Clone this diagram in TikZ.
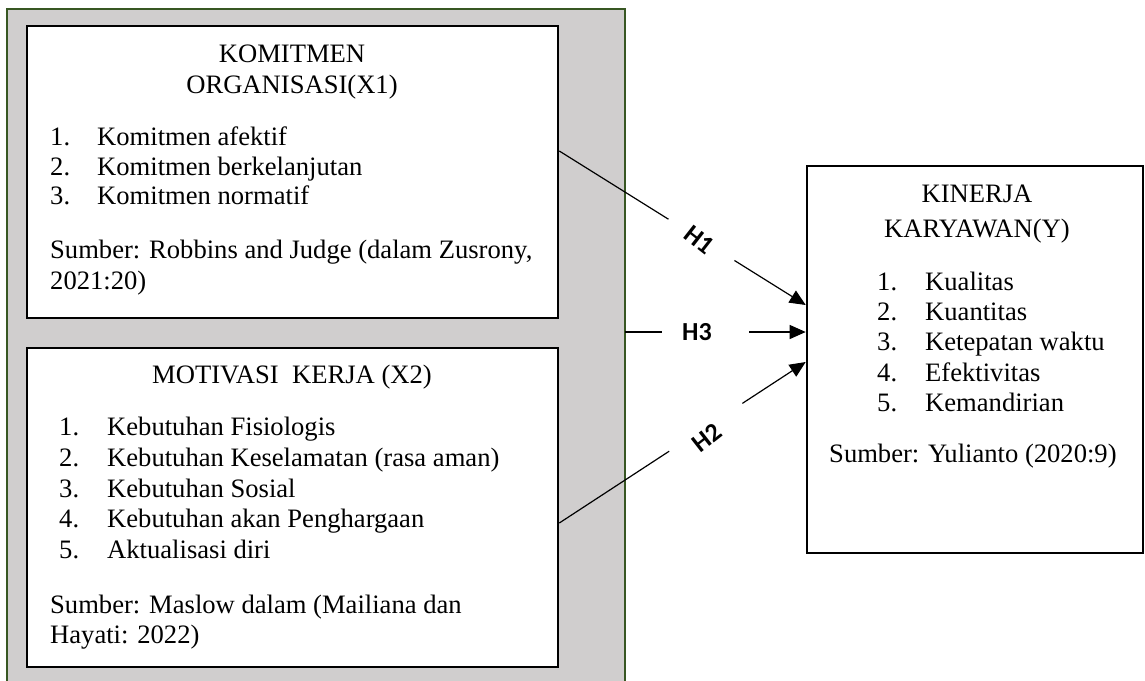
\documentclass[tikz,border=0pt]{standalone}
\usepackage{fontspec}
\setmainfont{Liberation Serif}
\newfontfamily\labfont{Carlito}
\usetikzlibrary{arrows.meta}
\definecolor{panelgray}{RGB}{208,206,206}
\definecolor{panelgreen}{RGB}{56,87,35}
\tikzset{
  panel/.style={draw=panelgreen, line width=1.5pt, fill=panelgray, rectangle, inner sep=0pt},
  varbox/.style={draw=black, line width=2.6pt, fill=white, rectangle, inner sep=0pt},
  txt/.style={anchor=base west, inner sep=0pt, font=\fontsize{26.6}{30}\selectfont},
  ctxt/.style={anchor=base, inner sep=0pt, font=\fontsize{26.6}{30}\selectfont},
  conn/.style={line width=1.2pt},
  arr/.style={line width=1.2pt, -{Triangle[length=16pt,width=14pt]}},
  hlab/.style={inner sep=0pt, font=\labfont\bfseries\fontsize{26}{26}\selectfont},
}
\begin{document}
\begin{tikzpicture}[x=1pt,y=-1pt]
\useasboundingbox (0,0) rectangle (1145,680);
% panel and boxes
\node[panel, minimum width=618pt, minimum height=678pt] (panel) at (316,348) {};
\node[varbox, minimum width=531pt, minimum height=292pt] (x1) at (292.5,172) {};
\node[varbox, minimum width=531pt, minimum height=319pt] (x2) at (292.5,507.5) {};
\node[varbox, minimum width=336pt, minimum height=387pt] (y) at (975,359.5) {};
% X1 text
\node[ctxt] (x1t1) at (292,62) {KOMITMEN};
\node[ctxt] (x1t2) at (292,93) {ORGANISASI(X1)};
\node[txt] (x1n1) at (50,145) {1.};
\node[txt] (x1i1) at (97,145) {Komitmen afektif};
\node[txt] (x1n2) at (50,175) {2.};
\node[txt] (x1i2) at (97,175) {Komitmen berkelanjutan};
\node[txt] (x1n3) at (50,204) {3.};
\node[txt] (x1i3) at (97,204) {Komitmen normatif};
\node[txt] (x1s1) at (50,258) {Sumber: Robbins and Judge (dalam Zusrony,};
\node[txt] (x1s2) at (50,289) {2021:20)};
% X2 text
\node[ctxt] (x2t1) at (292,383) {MOTIVASI\ \ KERJA (X2)};
\node[txt] (x2n1) at (59,435) {1.};
\node[txt] (x2i1) at (107,435) {Kebutuhan Fisiologis};
\node[txt] (x2n2) at (59,466) {2.};
\node[txt] (x2i2) at (107,466) {Kebutuhan Keselamatan (rasa aman)};
\node[txt] (x2n3) at (59,497) {3.};
\node[txt] (x2n3b) at (107,497) {Kebutuhan Sosial};
\node[txt] (x2n4) at (59,527) {4.};
\node[txt] (x2i4) at (107,527) {Kebutuhan akan Penghargaan};
\node[txt] (x2n5) at (59,558) {5.};
\node[txt] (x2i5) at (107,558) {Aktualisasi diri};
\node[txt] (x2s1) at (50,613) {Sumber: Maslow dalam (Mailiana dan};
\node[txt] (x2s2) at (50,643) {Hayati: 2022)};
% Y text
\node[ctxt] (yt1) at (977,202) {KINERJA};
\node[ctxt] (yt2) at (977,237) {KARYAWAN(Y)};
\node[txt] (yn1) at (877,290) {1.};
\node[txt] (yi1) at (925,290) {Kualitas};
\node[txt] (yn2) at (877,320) {2.};
\node[txt] (yi2) at (925,320) {Kuantitas};
\node[txt] (yn3) at (877,350) {3.};
\node[txt] (yi3) at (925,350) {Ketepatan waktu};
\node[txt] (yn4) at (877,381) {4.};
\node[txt] (yi4) at (925,381) {Efektivitas};
\node[txt] (yn5) at (877,411) {5.};
\node[txt] (yi5) at (925,411) {Kemandirian};
\node[txt] (ys) at (829,462) {Sumber: Yulianto (2020:9)};
% connector end points and gaps
\path ([yshift=21pt]x1.east) coordinate (h1s) -- ([yshift=54.5pt]y.west) coordinate (h1e)
  coordinate[pos=0.443] (h1a) coordinate[pos=0.711] (h1b);
\path ([xshift=-0.75pt,yshift=16pt]panel.east) coordinate (h3s) -- ([yshift=27.5pt]y.west) coordinate (h3e)
  coordinate[pos=0.203] (h3a) coordinate[pos=0.687] (h3b);
\path ([yshift=-15.5pt]x2.east) coordinate (h2s) -- ([yshift=-2.5pt]y.west) coordinate (h2e)
  coordinate[pos=0.446] (h2a) coordinate[pos=0.743] (h2b);
% connectors
\draw[conn] (h1s) -- (h1a);
\draw[arr] (h1b) -- (h1e);
\draw[conn] (h3s) -- (h3a);
\draw[arr] (h3b) -- (h3e);
\draw[conn] (h2s) -- (h2a);
\draw[arr] (h2b) -- (h2e);
% labels
\node[hlab, rotate=-38] (h1) at (699,240) {H1};
\node[hlab] (h3) at (697,332) {H3};
\node[hlab, rotate=38] (h2) at (707,438) {H2};
\end{tikzpicture}
\end{document}
